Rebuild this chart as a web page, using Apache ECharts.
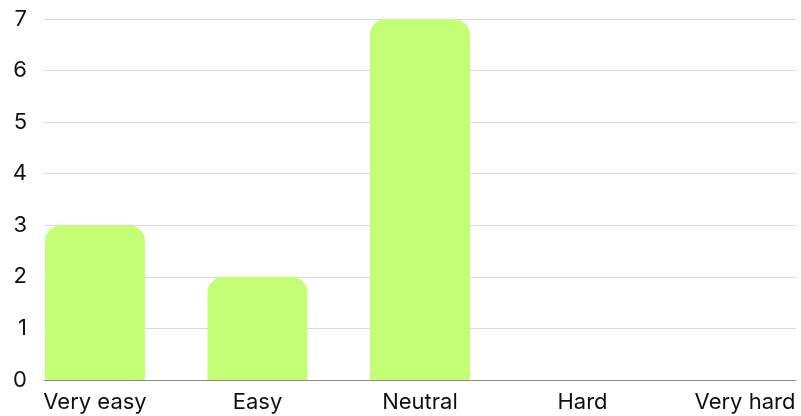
<!DOCTYPE html>
<html>
<head>
    <meta charset="utf-8">
    <title>Difficulty</title>
    <style>
        html, body { margin: 0; padding: 0; background: #fff; }
    </style>
</head>
<body>
    <div id="main" style="width: 801px;height:416px;"></div>
    <script src="https://cdn.jsdelivr.net/npm/echarts@6/dist/echarts.min.js"></script>
    <script type="text/javascript">
        var myChart = echarts.init(document.getElementById('main'));

        // data
        var categories = ['Very easy', 'Easy', 'Neutral', 'Hard', 'Very hard'];
        var responses = [3, 2, 7, 0, 0];
        var yTicks = [0, 1, 2, 3, 4, 5, 6, 7];

        var font = 'Inter, "Open Sans", sans-serif';

        var option = {
            animation: false,
            grid: [
                // grid for gridlines / axis line / y labels
                { left: 44, right: 5, top: 19, bottom: 36, outerBoundsMode: 'none' },
                // grid for bars, wider so bars stretch edge to edge
                { left: 13.75, width: 812.5, top: 19, bottom: 36, outerBoundsMode: 'none' }
            ],
            xAxis: [
                {
                    type: 'category', gridIndex: 0, data: categories,
                    axisLine: { lineStyle: { color: '#8c8c8c', width: 1 } },
                    axisTick: { show: false },
                    axisLabel: { show: false }
                },
                {
                    type: 'category', gridIndex: 1, data: categories,
                    axisLine: { show: false },
                    axisTick: { show: false },
                    axisLabel: { color: '#111', fontSize: 22, fontFamily: font, margin: 11 }
                }
            ],
            yAxis: [
                {
                    type: 'value', gridIndex: 0, min: yTicks[0], max: yTicks[yTicks.length - 1], interval: 1,
                    axisLine: { show: false },
                    axisTick: { show: false },
                    axisLabel: { color: '#111', fontSize: 22, fontFamily: font, margin: 17 },
                    splitLine: { lineStyle: { color: '#d9d9d9', width: 1 } }
                },
                {
                    type: 'value', gridIndex: 1, min: yTicks[0], max: yTicks[yTicks.length - 1], interval: 1,
                    show: false
                }
            ],
            series: [{
                type: 'bar',
                xAxisIndex: 1,
                yAxisIndex: 1,
                data: responses,
                barWidth: 100,
                itemStyle: {
                    color: '#c4fe74',
                    borderRadius: [16, 16, 0, 0]
                }
            }]
        };

        myChart.setOption(option);
    </script>
</body>
</html>
